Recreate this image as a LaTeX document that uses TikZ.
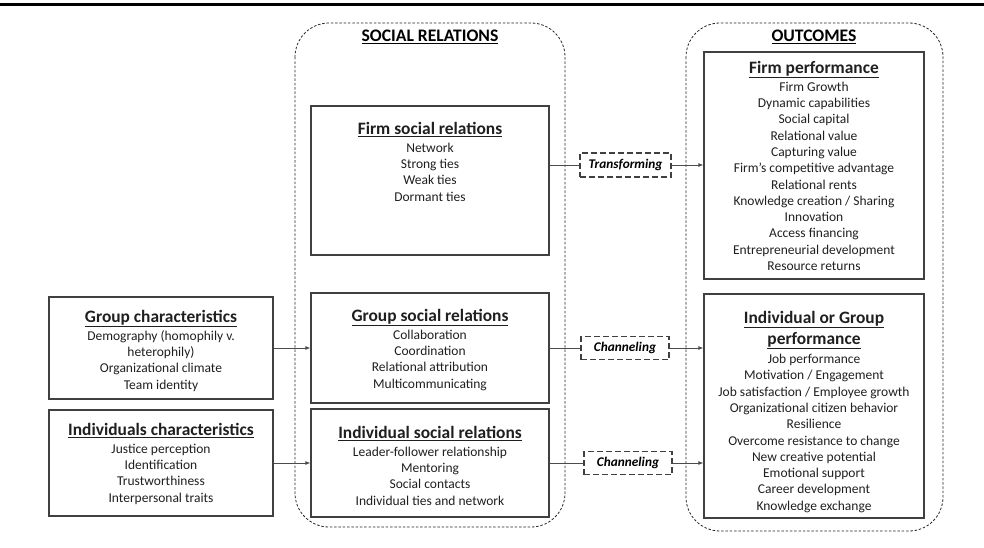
\documentclass[tikz,border=0pt]{standalone}
\usepackage{fontspec}
\setmainfont{Carlito}
\usetikzlibrary{arrows.meta}
\newcommand\ttlf{\fontsize{17.4}{21}\selectfont\bfseries}
\begin{document}
\begin{tikzpicture}[x=1pt,y=-1pt,
  box/.style={draw=black!75, line width=1.3pt, rectangle, inner sep=0pt},
  txt/.style={align=center, font=\fontsize{13.5}{16.3}\selectfont, text=black!88, inner sep=0pt, anchor=north},
  group/.style={draw=black!85, line width=0.8pt, dash pattern=on 2.5pt off 1.8pt, rounded corners=34pt},
  mech/.style={draw=black!75, line width=1.2pt, dash pattern=on 6pt off 3pt, inner sep=0pt, font=\fontsize{13.3}{15}\selectfont\bfseries\itshape},
  arr/.style={draw=black!70, line width=0.8pt, -{Latex[length=5pt,width=4pt]}},
  ln/.style={draw=black!70, line width=0.8pt}]
\useasboundingbox (0,0) rectangle (984,548);
\draw[line width=3pt] (0,5) -- (984,5);

% containers
\draw[group] (295,23) rectangle (565,527);
\draw[group] (686,23) rectangle (943,531);
\node[font=\fontsize{17.6}{20}\selectfont\bfseries] (hsr) at (430,37) {\underline{SOCIAL RELATIONS}};
\node[font=\fontsize{17.6}{20}\selectfont\bfseries] (hout) at (814,37) {\underline{OUTCOMES}};

% boxes
\node[box, minimum width=238pt, minimum height=149pt] (fsr) at (430,180.5) {};
\node[txt] (fsrt) at (430,122) {{\ttlf\underline{Firm social relations}}\\[1.5pt]Network\\Strong ties\\Weak ties\\Dormant ties};

\node[box, minimum width=220pt, minimum height=227pt] (fp) at (814,165.5) {};
\node[txt] (fpt) at (814,61) {{\ttlf\underline{Firm performance}}\\[1.5pt]Firm Growth\\Dynamic capabilities\\Social capital\\Relational value\\Capturing value\\Firm’s competitive advantage\\Relational rents\\Knowledge creation / Sharing\\Innovation\\Access financing\\Entrepreneurial development\\Resource returns};

\node[box, minimum width=224pt, minimum height=102pt] (gc) at (161,348) {};
\node[txt] (gct) at (161,310) {{\ttlf\underline{Group characteristics}}\\[1.5pt]Demography (homophily v.\\heterophily)\\Organizational climate\\Team identity};

\node[box, minimum width=224pt, minimum height=106pt] (ic) at (161,463) {};
\node[txt] (ict) at (161,423) {{\ttlf\underline{Individuals characteristics}}\\[1.5pt]Justice perception\\Identification\\Trustworthiness\\Interpersonal traits};

\node[box, minimum width=238pt, minimum height=110pt] (gsr) at (430,348) {};
\node[txt] (gsrt) at (430,309) {{\ttlf\underline{Group social relations}}\\[1.5pt]Collaboration\\Coordination\\Relational attribution\\Multicommunicating};

\node[box, minimum width=238pt, minimum height=108pt] (isr) at (430,463) {};
\node[txt] (isrt) at (430,426) {{\ttlf\underline{Individual social relations}}\\[1.5pt]Leader-follower relationship\\Mentoring\\Social contacts\\Individual ties and network};

\node[box, minimum width=220pt, minimum height=224pt] (igp) at (814,406) {};
\node[txt] (igpt) at (814,311) {{\ttlf\underline{Individual or Group}}\\[3pt]{\ttlf\underline{performance}}\\[3pt]Job performance\\Motivation / Engagement\\Job satisfaction / Employee growth\\Organizational citizen behavior\\Resilience\\Overcome resistance to change\\New creative potential\\Emotional support\\Career development\\Knowledge exchange};

% mechanism boxes
\node[mech, minimum width=91pt, minimum height=24pt] (tr) at (625.5,165) {Transforming};
\node[mech, minimum width=88pt, minimum height=23pt] (ch1) at (625,348) {Channeling};
\node[mech, minimum width=88pt, minimum height=23pt] (ch2) at (628,463) {Channeling};

% connectors
\draw[ln] (fsr.east |- tr.west) -- (tr.west);
\draw[arr] (tr.east) -- (tr.east -| fp.west);
\draw[arr] (gc.east) -- (gsr.west);
\draw[arr] (ic.east) -- (isr.west);
\draw[ln] (gsr.east) -- (ch1.west);
\draw[arr] (ch1.east) -- (ch1.east -| igp.west);
\draw[ln] (isr.east) -- (ch2.west);
\draw[arr] (ch2.east) -- (ch2.east -| igp.west);
\end{tikzpicture}
\end{document}
